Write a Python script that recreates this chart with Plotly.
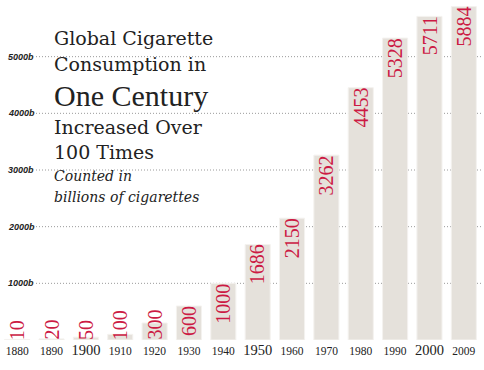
import plotly.graph_objects as go

# ---- data ----
years = ["1880", "1890", "1900", "1910", "1920", "1930", "1940", "1950",
         "1960", "1970", "1980", "1990", "2000", "2009"]
consumption = [10, 20, 50, 100, 300, 600, 1000, 1686, 2150, 3262, 4453, 5328, 5711, 5884]
big_years = ["1900", "1950", "2000"]
grid_values = [1000, 2000, 3000, 4000, 5000]
grid_labels = ["1000b", "2000b", "3000b", "4000b", "5000b"]
title_lines = ["Global Cigarette", "Consumption in", "One Century", "Increased Over", "100 Times"]
subtitle_lines = ["Counted in", "billions of cigarettes"]

W, H = 484, 370
M_L, M_R, M_T, M_B = 0, 3, 0, 30
PLOT_H = H - M_T - M_B
PLOT_W = W - M_L - M_R
Y_MAX = 6000
RED = "#cc1a44"
BAR = "#e5e1db"
INK = "#222222"

def py(px):
    """pixel row (from top) -> paper y"""
    return (PLOT_H + M_T - px) / PLOT_H

def pxx(px):
    return (px - M_L) / PLOT_W

idx = list(range(len(years)))
ticktext = [
    f"<span style='font-size:14.5px'>{y}</span>" if y in big_years else y
    for y in years
]

fig = go.Figure()
fig.add_trace(go.Bar(
    x=idx, y=consumption,
    marker=dict(color=BAR, line=dict(color="#f4f2ef", width=1)),
    customdata=years,
    hovertemplate="%{customdata}: %{y}b<extra></extra>",
))

shapes = []
for v in grid_values:
    shapes.append(dict(type="line", xref="paper", yref="y", x0=pxx(36), x1=1,
                       y0=v, y1=v, layer="below",
                       line=dict(color="#9a9a9a", width=1, dash="1px,2px")))

annotations = []
for v, lab in zip(grid_values, grid_labels):
    annotations.append(dict(xref="paper", yref="y", x=pxx(6), y=v, text=lab,
                            showarrow=False, xanchor="left", yanchor="middle",
                            font=dict(family="Liberation Sans", size=9, color=INK,
                                      style="italic", weight="bold")))

# value labels on bars
LABEL_SIZE = 20
for i, v in zip(idx, consumption):
    txt = str(v)
    label_px = len(txt) * LABEL_SIZE * 0.456 + 4
    bar_px = v * PLOT_H / Y_MAX
    fnt = dict(family="Liberation Sans Narrow", size=LABEL_SIZE, color=RED)
    if bar_px > label_px:
        annotations.append(dict(x=i, y=v, xref="x", yref="y", text=txt,
                                showarrow=False, textangle=-90, yanchor="top",
                                xanchor="center", yshift=2, font=fnt))
    else:
        annotations.append(dict(x=i, y=0, xref="x", yref="y", text=txt,
                                showarrow=False, textangle=-90, yanchor="bottom",
                                xanchor="center", yshift=-2, font=fnt))

# title block
title_pos = [38, 64, 95, 127, 152]
for line, ypx in zip(title_lines, title_pos):
    if line == "One Century":
        f = dict(family="Liberation Serif", size=30, color=INK)
    else:
        f = dict(family="DejaVu Serif", size=19, color=INK)
    annotations.append(dict(xref="paper", yref="paper", x=pxx(52), y=py(ypx),
                            text=line, showarrow=False, xanchor="left", yanchor="middle",
                            font=f))
for line, ypx in zip(subtitle_lines, [176, 197]):
    annotations.append(dict(xref="paper", yref="paper", x=pxx(52), y=py(ypx),
                            text=line, showarrow=False, xanchor="left", yanchor="middle",
                            font=dict(family="DejaVu Serif", size=14, color=INK, style="italic")))

fig.update_layout(
    width=W, height=H,
    margin=dict(l=M_L, r=M_R, t=M_T, b=M_B, autoexpand=False),
    paper_bgcolor="white", plot_bgcolor="white",
    bargap=0.27,
    showlegend=False,
    xaxis=dict(range=[-0.5, len(years) - 0.5], tickmode="array", tickvals=idx, ticktext=ticktext,
               showgrid=False, zeroline=False, showline=False, ticks="", automargin=False,
               tickfont=dict(family="Liberation Serif", size=11.5, color=INK),
               ticklabelstandoff=2, fixedrange=True),
    yaxis=dict(range=[0, Y_MAX], showgrid=False, zeroline=False, showline=False,
               showticklabels=False, ticks="", automargin=False, fixedrange=True),
    shapes=shapes,
    annotations=annotations,
)

fig.write_html("out.html", config={"displayModeBar": False},
               post_script="document.body.style.margin='0';document.body.style.overflow='hidden';")
